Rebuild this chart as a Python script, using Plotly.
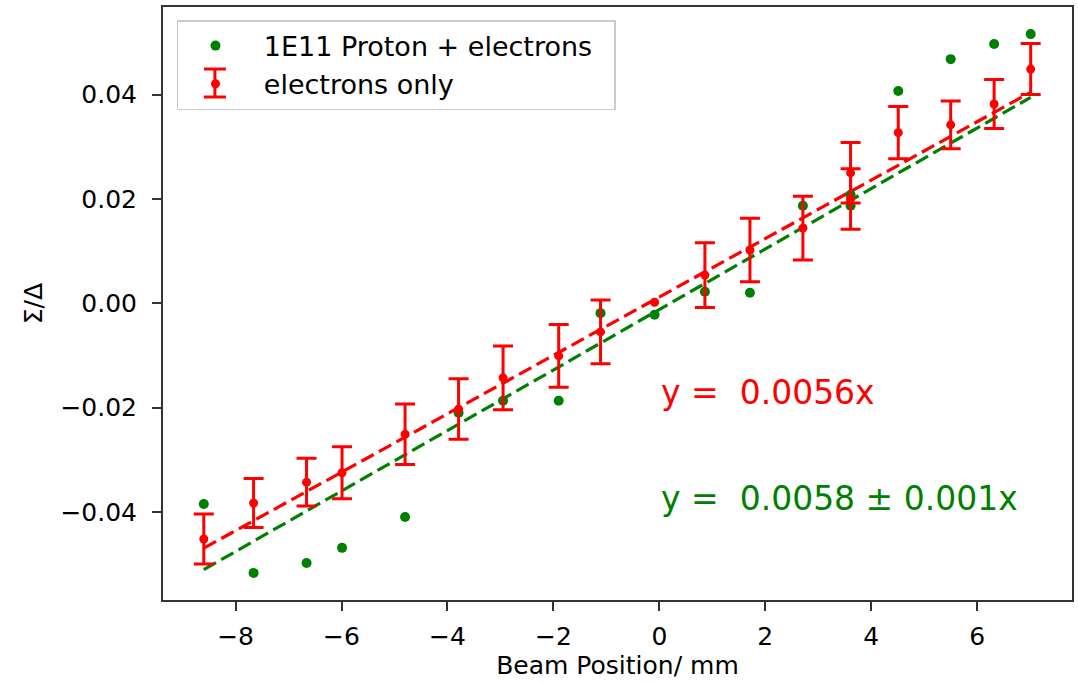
import plotly.graph_objects as go

# ---- data ----
beam_pos = [-8.60, -7.66, -6.66, -5.99, -4.80, -3.79, -2.95, -1.90, -1.11, -0.09,
            0.86, 1.71, 2.71, 3.61, 3.61, 4.51, 5.50, 6.32, 7.01]
proton_electrons = [-0.0385, -0.0517, -0.0498, -0.0469, -0.0410, -0.0210, -0.0187, -0.0187,
                    -0.0019, -0.0022, 0.0022, 0.0020, 0.0187, 0.0208, 0.0187, 0.0407,
                    0.0468, 0.0497, 0.0516]
electrons_only = [-0.0452, -0.0383, -0.0343, -0.0325, -0.0251, -0.0203, -0.0143, -0.0101,
                  -0.0055, 0.0002, 0.0054, 0.0102, 0.0144, 0.0250, 0.0200, 0.0327,
                  0.0342, 0.0382, 0.0449]
electrons_err = [0.0048, 0.0047, 0.0046, 0.0050, 0.0058, 0.0058, 0.0061, 0.0060,
                 0.0061, 0.0, 0.0062, 0.0061, 0.0061, 0.0058, 0.0058, 0.0050,
                 0.0046, 0.0047, 0.0049]

fit_red_slope, fit_red_icpt = 0.0056, 0.0012
fit_green_slope, fit_green_icpt = 0.0058, -0.0012

x_ticks = [-8, -6, -4, -2, 0, 2, 4, 6]
y_ticks = [-0.04, -0.02, 0.00, 0.02, 0.04]
y_ticklabels = ["\u22120.04", "\u22120.02", "0.00", "0.02", "0.04"]
x_ticklabels = ["\u22128", "\u22126", "\u22124", "\u22122", "0", "2", "4", "6"]

RED = "#ff0000"
GREEN = "#008000"
FONT = "DejaVu Sans"
PAD = "\u00a0\u200a"   # small gap between legend symbol and text

x_end = [min(beam_pos), max(beam_pos)]
red_line = [fit_red_slope * v + fit_red_icpt for v in x_end]
green_line = [fit_green_slope * v + fit_green_icpt for v in x_end]

fig = go.Figure()

fig.add_trace(go.Scatter(x=x_end, y=green_line, mode="lines", showlegend=False,
                         line=dict(color=GREEN, width=3.2, dash="14px,6px"), hoverinfo="skip"))
fig.add_trace(go.Scatter(x=x_end, y=red_line, mode="lines", showlegend=False,
                         line=dict(color=RED, width=3.2, dash="14px,6px"), hoverinfo="skip"))

fig.add_trace(go.Scatter(x=beam_pos, y=proton_electrons, mode="markers",
                         name=PAD + "1E11 Proton + electrons\u00a0\u00a0",
                         marker=dict(color=GREEN, size=10)))

idx_err = [i for i, e in enumerate(electrons_err) if e > 0]
idx_noerr = [i for i, e in enumerate(electrons_err) if e <= 0]

fig.add_trace(go.Scatter(x=[beam_pos[i] for i in idx_err],
                         y=[electrons_only[i] for i in idx_err],
                         mode="markers", name=PAD + "electrons only",
                         marker=dict(color=RED, size=9),
                         error_y=dict(type="data", array=[electrons_err[i] for i in idx_err],
                                      visible=True, color=RED, thickness=3, width=10)))
fig.add_trace(go.Scatter(x=[beam_pos[i] for i in idx_noerr],
                         y=[electrons_only[i] for i in idx_noerr],
                         mode="markers", showlegend=False,
                         marker=dict(color=RED, size=9)))

fig.add_annotation(x=0, y=-0.0172, xref="x", yref="y", text="y =\u00a0 0.0056x",
                   showarrow=False, xanchor="left", yanchor="middle",
                   font=dict(family=FONT, size=33, color=RED))
fig.add_annotation(x=0, y=-0.0375, xref="x", yref="y", text="y =\u00a0 0.0058 \u00b1 0.001x",
                   showarrow=False, xanchor="left", yanchor="middle",
                   font=dict(family=FONT, size=33, color=GREEN))

# error-bar glyph for the "electrons only" legend entry (paper coordinates)
glyph_x, glyph_half, glyph_top, glyph_bot = 0.0571, 0.0121, 0.8954, 0.8482
for (x0, y0, x1, y1) in [(glyph_x, glyph_bot, glyph_x, glyph_top),
                         (glyph_x - glyph_half, glyph_top, glyph_x + glyph_half, glyph_top),
                         (glyph_x - glyph_half, glyph_bot, glyph_x + glyph_half, glyph_bot)]:
    fig.add_shape(type="line", xref="paper", yref="paper", x0=x0, y0=y0, x1=x1, y1=y1,
                  line=dict(color=RED, width=3), layer="above")

axis_common = dict(showline=True, linecolor="#333333", linewidth=2, mirror=True,
                   ticks="outside", ticklen=9, tickwidth=1.5, tickcolor="#333333",
                   showgrid=False, zeroline=False,
                   tickfont=dict(family=FONT, size=25, color="black"))

fig.update_layout(
    width=1078, height=683,
    margin=dict(l=163, r=4, t=7, b=83),
    paper_bgcolor="white", plot_bgcolor="white",
    font=dict(family=FONT, color="black"),
    xaxis=dict(range=[-9.37, 7.79], tickvals=x_ticks, ticktext=x_ticklabels,
               ticklabelstandoff=4,
               title=dict(text="Beam Position/ mm", font=dict(family=FONT, size=25), standoff=6),
               **axis_common),
    yaxis=dict(range=[-0.0569, 0.0568], tickvals=y_ticks, ticktext=y_ticklabels,
               ticklabelstandoff=10,
               title=dict(text="\u03a3/\u0394", font=dict(family=FONT, size=25), standoff=11),
               **axis_common),
    legend=dict(x=0.0154, y=0.978, xanchor="left", yanchor="top",
                bgcolor="rgba(0,0,0,0)", bordercolor="#cccccc", borderwidth=1.5,
                font=dict(family=FONT, size=27, color="black"), itemwidth=64,
                tracegroupgap=0),
    showlegend=True,
)

fig.write_html("out.html", config={"displayModeBar": False},
               post_script="document.body.style.margin='0';document.body.style.overflow='hidden';")
